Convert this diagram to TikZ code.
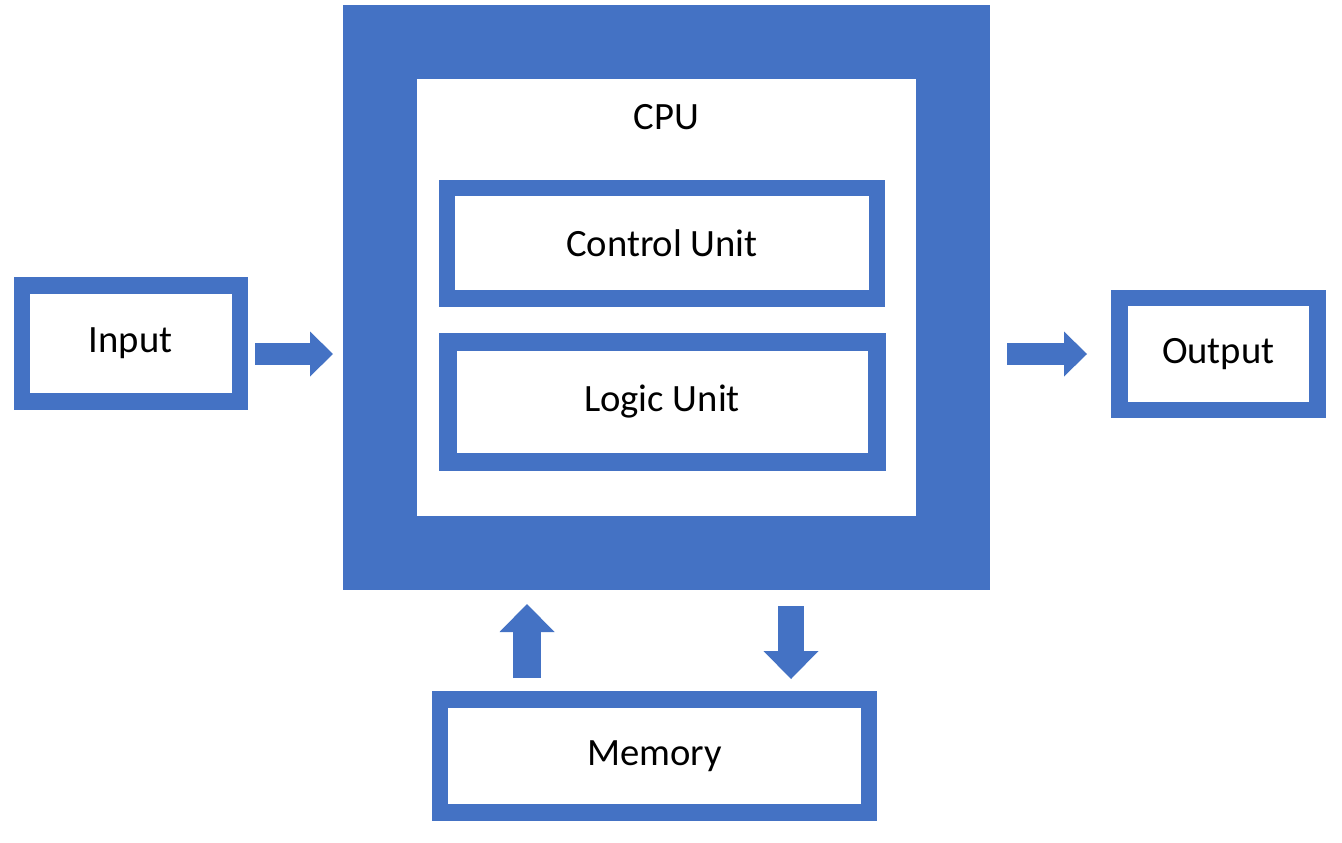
\documentclass[tikz,border=0pt]{standalone}
\usepackage{fontspec}
\setmainfont{Carlito}
\usepackage{xcolor}
\usepackage{tikz}
\usetikzlibrary{arrows.meta, positioning}
\definecolor{cpublue}{HTML}{4472C4}
\tikzset{
    unit/.style={
        rectangle,
        draw=cpublue,
        line width=0.165cm,
        fill=white,
        font=\fontsize{11}{13}\selectfont
    },
    cpubox/.style={
        rectangle,
        draw=cpublue,
        line width=0.74cm,
        fill=white,
        minimum width=5.73cm,
        minimum height=5.11cm
    },
    title/.style={
        font=\fontsize{11}{13}\selectfont
    },
    flow/.style={
        draw=cpublue,
        line width=0.22cm,
        -{Triangle[width=0.45cm,length=0.23cm,line width=0pt]}
    },
    wideflow/.style={
        draw=cpublue,
        line width=0.28cm,
        -{Triangle[width=0.55cm,length=0.28cm,line width=0pt]}
    }
}
\begin{document}
\begin{tikzpicture}

\path[use as bounding box, fill=white] (0,0) rectangle (13.42,8.42);

% CPU
\node[cpubox] (cpu) at (6.665,5.445) {};
\node[title] (cputitle) at ([yshift=-1.12cm]cpu.north) {CPU};

% Units inside the CPU
\node[unit, below=1.75cm of cpu.north, xshift=-0.045cm, minimum width=4.30cm, minimum height=1.10cm] (control) {Control Unit};
\node[unit, below=0.26cm of control, line width=0.18cm, minimum width=4.29cm, minimum height=1.20cm] (logic) {Logic Unit};

% Input, output, memory
\node[unit, left=0.95cm of cpu, yshift=-0.46cm, minimum width=2.18cm, minimum height=1.16cm] (input) {Input};
\node[unit, right=1.21cm of cpu, yshift=-0.565cm, minimum width=1.98cm, minimum height=1.12cm] (output) {Output};
\node[unit, below=1.01cm of cpu, xshift=-0.12cm, minimum width=4.29cm, minimum height=1.13cm] (memory) {Memory};

\coordinate (inarr) at ([yshift=-0.105cm]input.east);
\coordinate (memup) at ([xshift=-1.275cm]memory.north);
\coordinate (memdown) at ([xshift=1.365cm]memory.north);

\draw[flow, shorten <=0.07cm, shorten >=0.10cm] (inarr) -- (inarr -| cpu.west);
\draw[flow, shorten <=0.17cm, shorten >=0.24cm] (output.west -| cpu.east) -- (output.west);
\draw[wideflow, shorten <=0.13cm, shorten >=0.14cm] (memup) -- (memup |- cpu.south);
\draw[wideflow, line width=0.26cm, shorten <=0.16cm, shorten >=0.12cm] (memdown |- cpu.south) -- (memdown);

\end{tikzpicture}
\end{document}
